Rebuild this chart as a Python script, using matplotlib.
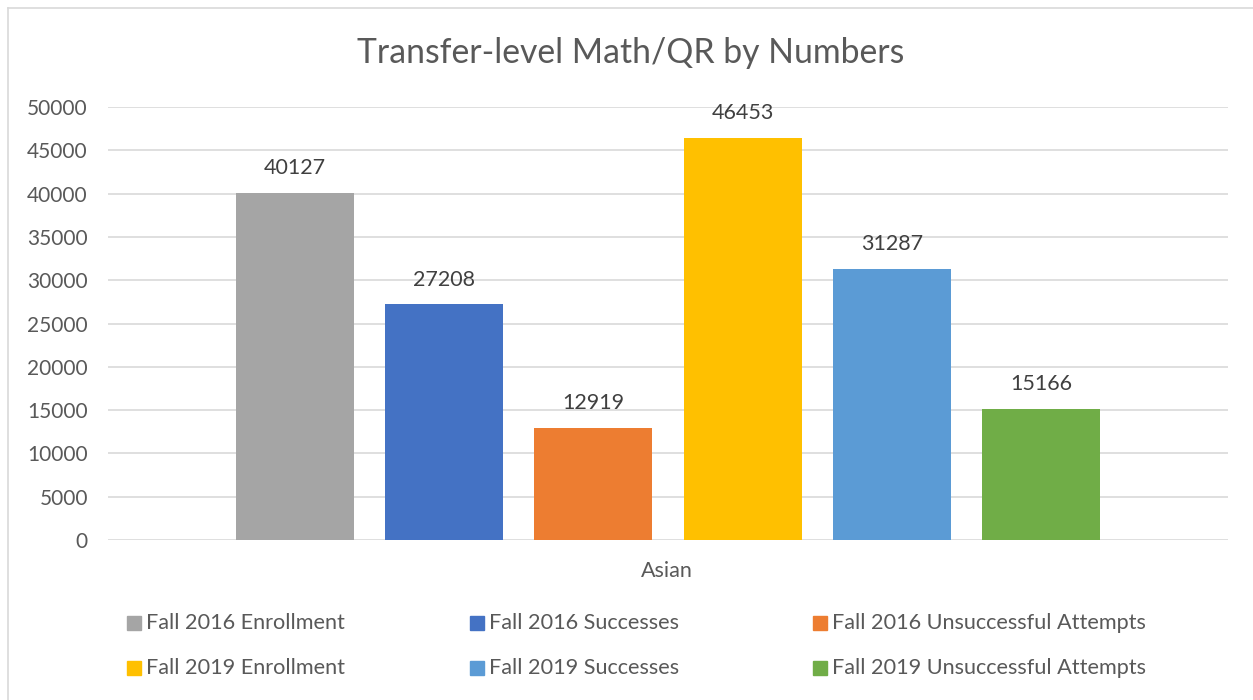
import matplotlib.pyplot as plt
from matplotlib.lines import Line2D

# data
series = ["Fall 2016 Enrollment", "Fall 2016 Successes", "Fall 2016 Unsuccessful Attempts",
          "Fall 2019 Enrollment", "Fall 2019 Successes", "Fall 2019 Unsuccessful Attempts"]
values = [40127, 27208, 12919, 46453, 31287, 15166]
colors = ["#A5A5A5", "#4472C4", "#ED7D31", "#FFC000", "#5B9BD5", "#70AD47"]
category = "Asian"
yticks = list(range(0, 50001, 5000))

plt.rcParams["font.family"] = ["Lato", "DejaVu Sans"]
txt = "#595959"

fig = plt.figure(figsize=(12.53, 7.0), dpi=100)
ax = fig.add_axes([108 / 1253, 1 - 540 / 700, 1120 / 1253, 433 / 700])

xpos = list(range(len(values)))
bars = ax.bar(xpos, values, width=118 / 149, color=colors, zorder=3)
for b, v in zip(bars, values):
    ax.text(b.get_x() + b.get_width() / 2, v + 1700, str(v), ha="center", va="bottom",
            fontsize=15.5, color="#404040")

ax.set_xlim(-1.255, 6.255)
ax.set_ylim(0, 50000)
ax.set_yticks(yticks)
ax.set_yticklabels([str(t) for t in yticks])
ax.set_xticks([])
ax.grid(axis="y", color="#D9D9D9", linewidth=1.2, zorder=0)
for s in ax.spines.values():
    s.set_visible(False)
ax.tick_params(axis="y", length=0, pad=14.5, labelsize=15, labelcolor=txt)

fig.text(667 / 1253, 1 - 571 / 700, category, ha="center", va="center", fontsize=15.5, color=txt)
fig.text(631 / 1253, 1 - 53 / 700, "Transfer-level Math/QR by Numbers", ha="center", va="center",
         fontsize=24.3, color=txt)

# legend laid out like the Excel one: 3 columns, 2 rows
col_x = [127, 470, 813]
row_y = [623, 668]
for i, (name, c) in enumerate(zip(series, colors)):
    r, k = divmod(i, 3)
    x = col_x[k] / 1253
    y = 1 - row_y[r] / 700
    fig.patches.append(plt.Rectangle((x, y - 7 / 700), 14 / 1253, 14 / 700, color=c,
                                     transform=fig.transFigure, figure=fig))
    fig.text(x + 19 / 1253, y, name, ha="left", va="center", fontsize=15.6, color=txt)

# chart area border (left and top visible)
fig.add_artist(Line2D([8 / 1253, 8 / 1253], [0, 1 - 8 / 700], color="#D9D9D9", lw=1.2,
                      transform=fig.transFigure))
fig.add_artist(Line2D([8 / 1253, 1], [1 - 8 / 700, 1 - 8 / 700], color="#D9D9D9", lw=1.2,
                      transform=fig.transFigure))

fig.savefig("out.png", dpi=100)
